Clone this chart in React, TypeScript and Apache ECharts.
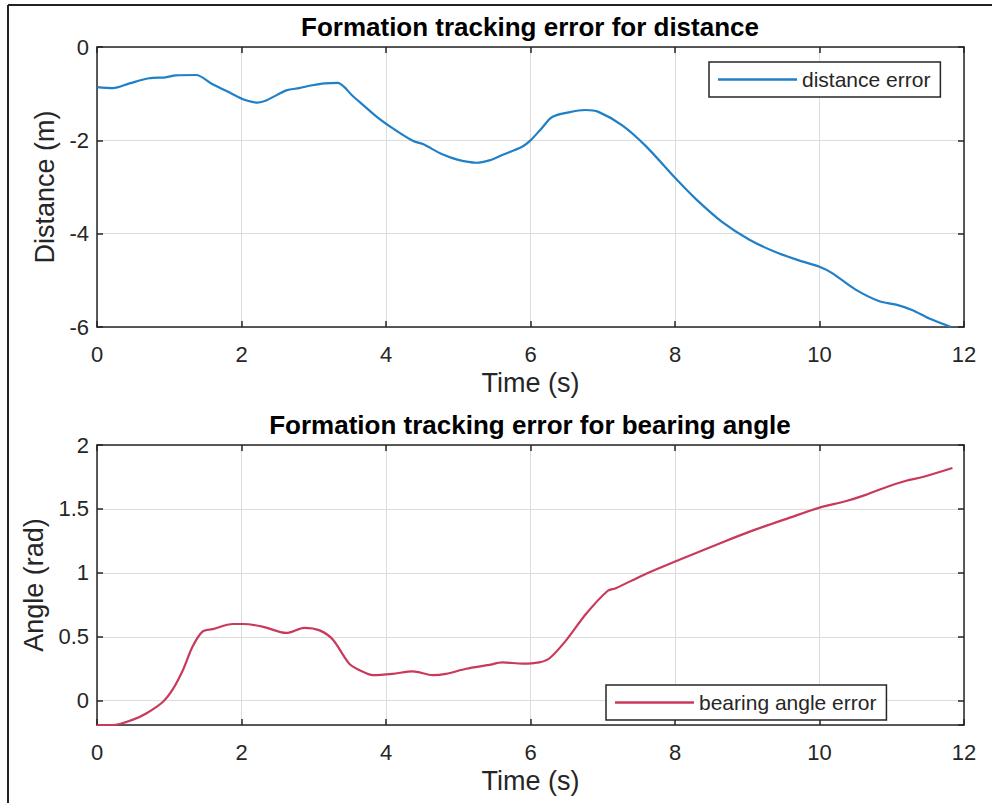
import React, { useEffect, useRef } from "react";
import * as echarts from "echarts";

const timeDist = [0, 0.22, 0.45, 0.72, 0.95, 1.09, 1.37, 1.6, 1.8, 2.02, 2.22, 2.35, 2.62, 2.8, 2.98, 3.15, 3.33, 3.54, 3.86, 4.1, 4.37, 4.51, 4.78, 5.0, 5.25, 5.43, 5.6, 5.89, 6.0, 6.15, 6.3, 6.53, 6.76, 6.94, 7.27, 7.6, 8.01, 8.29, 8.66, 9.03, 9.4, 9.77, 10.0, 10.18, 10.5, 10.83, 11.06, 11.29, 11.52, 11.82];
const distanceError = [-0.86, -0.88, -0.78, -0.67, -0.65, -0.61, -0.6, -0.8, -0.95, -1.12, -1.19, -1.14, -0.93, -0.88, -0.82, -0.78, -0.77, -1.05, -1.48, -1.75, -2.01, -2.08, -2.3, -2.42, -2.48, -2.43, -2.32, -2.13, -2.0, -1.75, -1.5, -1.4, -1.35, -1.39, -1.68, -2.13, -2.82, -3.26, -3.76, -4.13, -4.4, -4.6, -4.71, -4.85, -5.2, -5.45, -5.52, -5.64, -5.82, -6.0];

const timeAngle = [0, 0.22, 0.49, 0.68, 0.91, 1.05, 1.19, 1.32, 1.46, 1.6, 1.88, 2.02, 2.29, 2.62, 2.87, 3.08, 3.26, 3.49, 3.63, 3.82, 4.09, 4.37, 4.65, 4.83, 5.11, 5.43, 5.61, 5.89, 6.12, 6.26, 6.49, 6.77, 7.07, 7.18, 7.55, 8.01, 8.66, 9.12, 9.58, 10.0, 10.36, 10.64, 10.92, 11.2, 11.43, 11.84];
const bearingError = [-0.19, -0.19, -0.15, -0.1, -0.01, 0.09, 0.24, 0.42, 0.54, 0.56, 0.6, 0.6, 0.58, 0.53, 0.57, 0.55, 0.48, 0.29, 0.24, 0.2, 0.21, 0.23, 0.2, 0.21, 0.25, 0.28, 0.3, 0.29, 0.3, 0.33, 0.47, 0.68, 0.86, 0.88, 0.98, 1.09, 1.24, 1.34, 1.43, 1.51, 1.56, 1.61, 1.67, 1.72, 1.75, 1.82];

const titles = ["Formation tracking error for distance", "Formation tracking error for bearing angle"];
const seriesNames = ["distance error", "bearing angle error"];

const FONT = "'Liberation Sans', Arial, Helvetica, sans-serif";
const TXT = "#262626";
const GRIDC = "#dcdcdc";
const BLUE = "#1f80c8";
const RED = "#c93a5a";

export default function App() {
  const ref = useRef<HTMLDivElement>(null);
  useEffect(() => {
    if (!ref.current) return;
    const chart = echarts.init(ref.current, null, { renderer: "svg" });
    const grids = [
      { left: 97, top: 47, width: 867, height: 280 },
      { left: 97, top: 445, width: 867, height: 280 },
    ];
    const axisCommon = {
      nameLocation: "middle",
      nameTextStyle: { fontFamily: FONT, fontSize: 27, color: TXT },
      axisLine: { show: true, onZero: false, lineStyle: { color: TXT, width: 1.5 } },
      axisTick: { show: true, inside: true, length: 6, lineStyle: { color: TXT, width: 1.5 } },
    };
    const mkX = (gi: number, pos: "bottom" | "top") => ({
      ...axisCommon,
      type: "value",
      gridIndex: gi,
      position: pos,
      min: 0,
      max: 12,
      interval: 2,
      name: pos === "bottom" ? "Time (s)" : "",
      nameGap: 42,
      axisLabel: { show: pos === "bottom", margin: 16, fontFamily: FONT, fontSize: 22, color: TXT },
      splitLine: { show: pos === "bottom", lineStyle: { color: GRIDC, width: 1 } },
    });
    const yTop = (pos: "left" | "right") => ({
      ...axisCommon,
      type: "value",
      gridIndex: 0,
      position: pos,
      min: -6,
      max: 0,
      interval: 2,
      name: pos === "left" ? "Distance (m)" : "",
      nameGap: 33,
      axisLabel: { show: pos === "left", margin: 8, fontFamily: FONT, fontSize: 22, color: TXT },
      splitLine: { show: pos === "left", lineStyle: { color: GRIDC, width: 1 } },
    });
    const yBot = (pos: "left" | "right") => ({
      ...axisCommon,
      type: "value",
      gridIndex: 1,
      position: pos,
      min: -0.19,
      max: 2,
      splitNumber: 5,
      name: pos === "left" ? "Angle (rad)" : "",
      nameGap: 43,
      axisLabel: {
        show: pos === "left",
        margin: 8,
        fontFamily: FONT,
        fontSize: 22,
        color: TXT,
        formatter: (v: number) => (Math.abs(v * 2 - Math.round(v * 2)) < 1e-6 ? String(Math.round(v * 2) / 2) : ""),
      },
      splitLine: { show: pos === "left", lineStyle: { color: GRIDC, width: 1 } },
    });
    const legendCommon = {
      orient: "vertical",
      padding: [7, 10, 7, 9],
      itemWidth: 79,
      itemHeight: 2.5,
      icon: "rect",
      borderColor: TXT,
      borderWidth: 1.5,
      borderRadius: 0,
      backgroundColor: "#fff",
      textStyle: { fontFamily: FONT, fontSize: 21, color: TXT },
    };
    chart.setOption({
      animation: false,
      backgroundColor: "#ffffff",
      grid: grids,
      xAxis: [mkX(0, "bottom"), mkX(0, "top"), mkX(1, "bottom"), mkX(1, "top")],
      yAxis: [yTop("left"), yTop("right"), yBot("left"), yBot("right")],
      legend: [
        { ...legendCommon, data: [seriesNames[0]], left: 709, top: 62 },
        { ...legendCommon, data: [seriesNames[1]], left: 606, top: 685 },
      ],
      series: [
        {
          name: seriesNames[0],
          type: "line",
          xAxisIndex: 0,
          yAxisIndex: 0,
          data: timeDist.map((t, i) => [t, distanceError[i]]),
          smooth: 0.3,
          symbol: "none",
          lineStyle: { color: BLUE, width: 2.2 },
          itemStyle: { color: BLUE },
        },
        {
          name: seriesNames[1],
          type: "line",
          xAxisIndex: 2,
          yAxisIndex: 2,
          data: timeAngle.map((t, i) => [t, bearingError[i]]),
          smooth: 0.3,
          symbol: "none",
          lineStyle: { color: RED, width: 2.2 },
          itemStyle: { color: RED },
        },
      ],
      graphic: [
        { type: "line", shape: { x1: 8, y1: 5, x2: 8, y2: 803 }, style: { stroke: "#222", lineWidth: 2 } },
        { type: "line", shape: { x1: 8, y1: 5, x2: 992, y2: 5 }, style: { stroke: "#222", lineWidth: 2 } },
        {
          type: "text",
          x: 530,
          y: 27,
          style: { text: titles[0], fontFamily: FONT, fontSize: 26, fontWeight: "bold", fill: "#000", align: "center", verticalAlign: "middle" },
        },
        {
          type: "text",
          x: 530,
          y: 425,
          style: { text: titles[1], fontFamily: FONT, fontSize: 26, fontWeight: "bold", fill: "#000", align: "center", verticalAlign: "middle" },
        },
      ],
    });
    return () => chart.dispose();
  }, []);
  return <div ref={ref} style={{ position: "fixed", left: 0, top: 0, width: 992, height: 803 }} />;
}
